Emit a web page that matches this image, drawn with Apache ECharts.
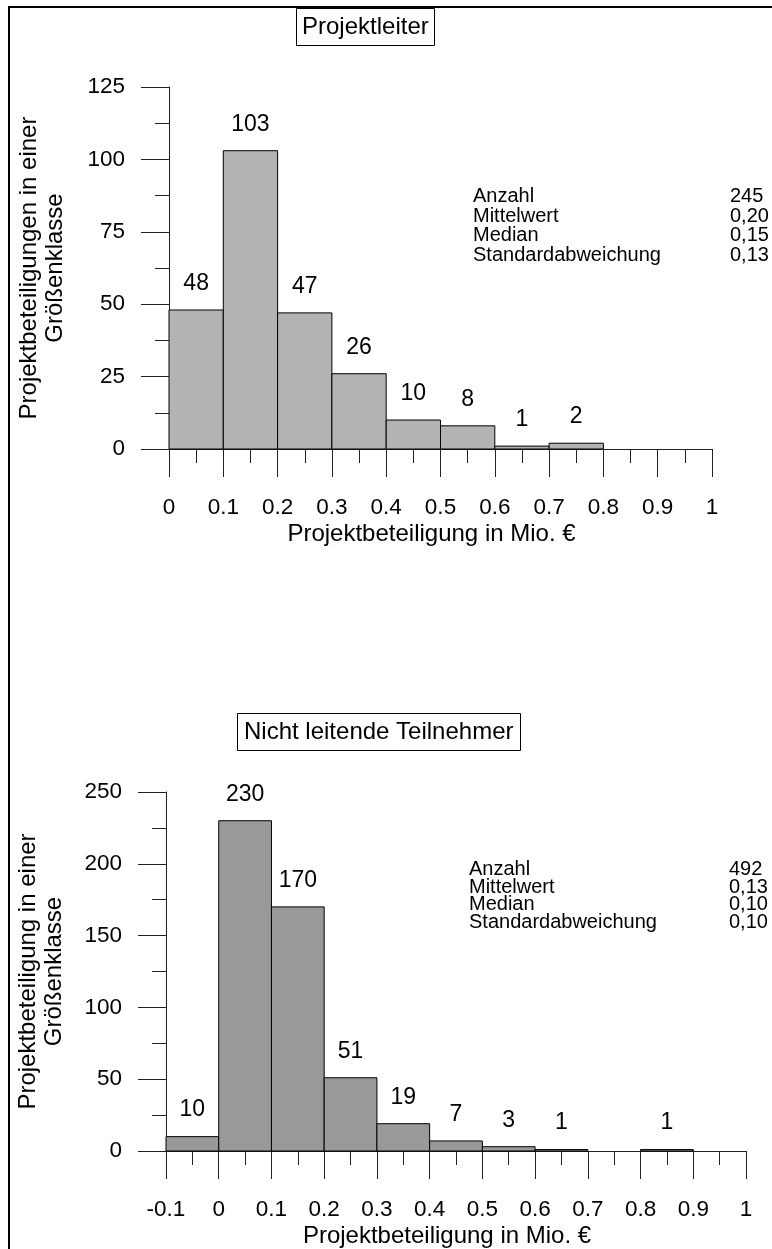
<!DOCTYPE html>
<html>
<head>
<meta charset="utf-8">
<title>Projektbeteiligungen</title>
<script src="https://cdn.jsdelivr.net/npm/echarts@6.0.0/dist/echarts.min.js"></script>
<style>
  html, body { margin: 0; padding: 0; background: #fff; }
  #chart { width: 772px; height: 1249px; }
</style>
</head>
<body>
<div id="chart"></div>
<script>
// Projektleiter: Klassenanfang (Mio. €) und Anzahl je Größenklasse
const leiterBins = [0, 0.1, 0.2, 0.3, 0.4, 0.5, 0.6, 0.7];
const leiterCounts = [48, 103, 47, 26, 10, 8, 1, 2];
// Nicht leitende Teilnehmer
const teilnBins = [-0.1, 0, 0.1, 0.2, 0.3, 0.4, 0.5, 0.6, 0.8];
const teilnCounts = [10, 230, 170, 51, 19, 7, 3, 1, 1];
const binWidth = 0.1;

// Achsenbeschriftungen
const leiterXTicks = [0, 0.1, 0.2, 0.3, 0.4, 0.5, 0.6, 0.7, 0.8, 0.9, 1];
const leiterYTicks = [0, 25, 50, 75, 100, 125];
const teilnXTicks = [-0.1, 0, 0.1, 0.2, 0.3, 0.4, 0.5, 0.6, 0.7, 0.8, 0.9, 1];
const teilnYTicks = [0, 50, 100, 150, 200, 250];

// Kennzahlen
const statNames = ['Anzahl', 'Mittelwert', 'Median', 'Standardabweichung'];
const leiterStats = ['245', '0,20', '0,15', '0,13'];
const teilnStats = ['492', '0,13', '0,10', '0,10'];

const FONT = '"Liberation Sans", Arial, sans-serif';
const INK = '#000';

const toItems = (bins, counts) => bins.map((b, i) => [b, +(b + binWidth).toFixed(2), counts[i]]);

function histItem(fill) {
  return (params, api) => {
    const x0 = api.value(0), x1 = api.value(1), n = api.value(2);
    const tl = api.coord([x0, n]);
    const br = api.coord([x1, 0]);
    const mid = api.coord([(x0 + x1) / 2, n]);
    return {
      type: 'group',
      children: [
        {
          type: 'rect',
          shape: { x: tl[0], y: tl[1], width: br[0] - tl[0], height: br[1] - tl[1] },
          style: { fill: fill, stroke: INK, lineWidth: 1 }
        },
        {
          type: 'text',
          x: mid[0],
          y: mid[1] - 15,
          style: {
            text: String(n), align: 'center', verticalAlign: 'bottom',
            font: '23px ' + FONT, fill: INK
          }
        }
      ]
    };
  };
}

function xAxis(grid, ticks) {
  return {
    type: 'value',
    gridIndex: grid,
    min: ticks[0],
    max: ticks[ticks.length - 1],
    interval: 0.1,
    name: 'Projektbeteiligung in Mio. €',
    nameLocation: 'middle',
    nameGap: 73,
    nameTextStyle: { fontSize: 24, color: INK, fontFamily: FONT, padding: [0, 18, 0, 0] },
    axisLine: { show: true, onZero: false, lineStyle: { color: '#222', width: 1 } },
    axisTick: { show: true, inside: false, length: 28, lineStyle: { color: '#222' } },
    minorTick: { show: true, splitNumber: 2, length: 14, lineStyle: { color: '#222' } },
    splitLine: { show: false },
    minorSplitLine: { show: false },
    axisLabel: { margin: 47, fontSize: 22.5, color: INK, fontFamily: FONT, showMinLabel: true, showMaxLabel: true, hideOverlap: false }
  };
}

function yAxis(grid, ticks, title, gap) {
  return {
    type: 'value',
    gridIndex: grid,
    min: ticks[0],
    max: ticks[ticks.length - 1],
    interval: ticks[1] - ticks[0],
    name: title,
    nameLocation: 'middle',
    nameRotate: 90,
    nameGap: gap,
    nameTextStyle: { fontSize: 24, lineHeight: 26, color: INK, fontFamily: FONT, align: 'center' },
    axisLine: { show: true, onZero: false, lineStyle: { color: '#222', width: 1 } },
    axisTick: { show: true, inside: false, length: 28, lineStyle: { color: '#222' } },
    minorTick: { show: true, splitNumber: 2, length: 14, lineStyle: { color: '#222' } },
    splitLine: { show: false },
    minorSplitLine: { show: false },
    axisLabel: { margin: 44, fontSize: 22.5, color: INK, fontFamily: FONT }
  };
}

function statsBlock(x, xVal, y, lineH, values) {
  const style = { font: '20px ' + FONT, fill: INK, lineHeight: lineH, verticalAlign: 'top' };
  return [
    { type: 'text', x: x, y: y, style: Object.assign({ text: statNames.join('\n') }, style) },
    { type: 'text', x: xVal, y: y, style: Object.assign({ text: values.join('\n') }, style) }
  ];
}

const chart = echarts.init(document.getElementById('chart'), null, { renderer: 'canvas' });

chart.setOption({
  backgroundColor: '#fff',
  animation: false,
  title: [
    {
      text: 'Projektleiter', left: 296, top: 8,
      borderColor: INK, borderWidth: 1, padding: [7, 6, 7, 6],
      textStyle: { fontSize: 24, lineHeight: 24, fontWeight: 'normal', color: INK, fontFamily: FONT }
    },
    {
      text: 'Nicht leitende Teilnehmer', left: 237, top: 713,
      borderColor: INK, borderWidth: 1, padding: [7, 7, 7, 7],
      textStyle: { fontSize: 24, lineHeight: 24, fontWeight: 'normal', color: INK, fontFamily: FONT }
    }
  ],
  grid: [
    { left: 169, top: 87, width: 543, height: 362 },
    { left: 166, top: 792, width: 580, height: 361.5 }
  ],
  xAxis: [xAxis(0, leiterXTicks), xAxis(1, teilnXTicks)],
  yAxis: [
    yAxis(0, leiterYTicks, 'Projektbeteiligungen in einer\nGrößenklasse', 101),
    yAxis(1, teilnYTicks, 'Projektbeteiligung in einer\nGrößenklasse', 99)
  ],
  graphic: [
    {
      type: 'rect', z: 100, silent: true,
      shape: { x: 9, y: 7, width: 1200, height: 1600 },
      style: { fill: 'none', stroke: INK, lineWidth: 2 }
    }
  ]
    .concat(statsBlock(473, 730, 187, 19.5, leiterStats))
    .concat(statsBlock(469, 729, 861, 17.5, teilnStats)),
  series: [
    {
      type: 'custom',
      xAxisIndex: 0, yAxisIndex: 0,
      renderItem: histItem('#b3b3b3'),
      encode: { x: [0, 1], y: 2 },
      data: toItems(leiterBins, leiterCounts)
    },
    {
      type: 'custom',
      xAxisIndex: 1, yAxisIndex: 1,
      renderItem: histItem('#999999'),
      encode: { x: [0, 1], y: 2 },
      data: toItems(teilnBins, teilnCounts)
    }
  ]
});
</script>
</body>
</html>
